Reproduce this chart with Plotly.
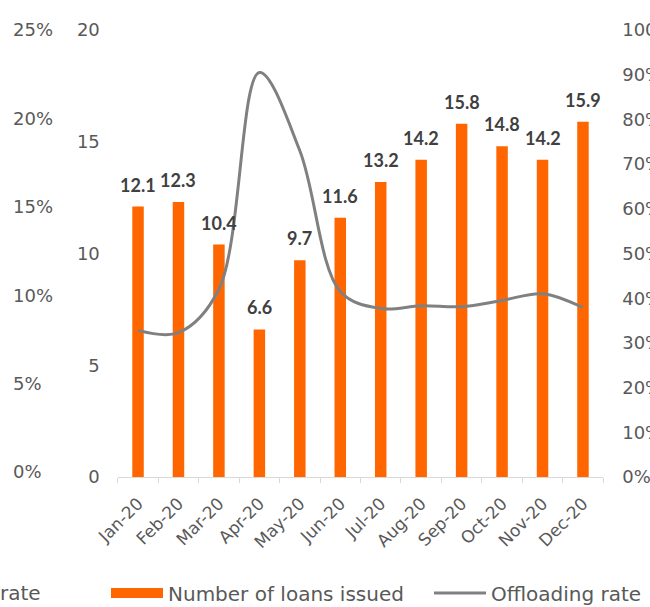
import plotly.graph_objects as go

months = ["Jan-20", "Feb-20", "Mar-20", "Apr-20", "May-20", "Jun-20",
          "Jul-20", "Aug-20", "Sep-20", "Oct-20", "Nov-20", "Dec-20"]
loans_issued = [12.1, 12.3, 10.4, 6.6, 9.7, 11.6, 13.2, 14.2, 15.8, 14.8, 14.2, 15.9]
offloading_rate = [0.328, 0.323, 0.42, 0.905, 0.73, 0.415, 0.377, 0.383, 0.381, 0.395, 0.41, 0.379]

left_ticks = [0, 5, 10, 15, 20]
pct_ticks_right = [i / 10 for i in range(11)]
pct_ticks_far_left = [0, 0.05, 0.10, 0.15, 0.20, 0.25]

ORANGE = "#FF6600"
GREY_LINE = "#808080"
TICK_COLOR = "#595959"
LABEL_COLOR = "#404040"
FONT = "DejaVu Sans"

fig = go.Figure()

fig.add_trace(go.Bar(
    x=months, y=loans_issued, name="Number of loans issued",
    marker=dict(color=ORANGE, line=dict(width=0)),
    width=0.284, showlegend=False, yaxis="y", hoverinfo="skip",
))
# legend proxy for the bar series (wide rectangle symbol like the reference)
fig.add_trace(go.Scatter(
    x=[None], y=[None], mode="lines", name="Number of loans issued",
    line=dict(color=ORANGE, width=10), yaxis="y", hoverinfo="skip",
))
fig.add_trace(go.Scatter(
    x=months, y=offloading_rate, name="Offloading rate", mode="lines",
    line=dict(color=GREY_LINE, width=3, shape="spline", smoothing=1.0),
    yaxis="y2", hoverinfo="skip",
))
# far-left percentage axis (from the neighbouring chart)
fig.add_trace(go.Scatter(
    x=[None], y=[None], mode="lines", showlegend=False, yaxis="y3", hoverinfo="skip",
))

for m, v in zip(months, loans_issued):
    fig.add_annotation(
        x=m, y=v, xref="x", yref="y", text=f"{v:.1f}", showarrow=False,
        yshift=22, yanchor="middle",
        font=dict(family="Lato", size=18, color=LABEL_COLOR, weight="bold"),
    )

fig.add_annotation(
    x=0, y=-0.2595, xref="paper", yref="paper", text="rate", showarrow=False,
    xanchor="left", yanchor="middle", xshift=-2,
    font=dict(family=FONT, size=20, color=TICK_COLOR),
)

fig.update_layout(
    width=650, height=607,
    margin=dict(l=0, r=0, t=30, b=130, autoexpand=False),
    paper_bgcolor="white", plot_bgcolor="white",
    font=dict(family=FONT, size=18, color=TICK_COLOR),
    bargap=0.7,
    hovermode=False,
    xaxis=dict(
        domain=[117.8 / 650, 603.2 / 650], automargin=False,
        type="category", categoryorder="array", categoryarray=months,
        showline=True, linecolor="#D9D9D9", linewidth=1,
        ticks="outside", ticklen=5, tickcolor="#D9D9D9", tickson="boundaries",
        tickangle=-45, showgrid=False, zeroline=False, ticklabelstandoff=9,
        tickfont=dict(family=FONT, size=17, color=TICK_COLOR),
    ),
    yaxis=dict(
        range=[0, 20], tickvals=left_ticks, showgrid=False, zeroline=False,
        showline=False, ticks="", ticklabelstandoff=17, automargin=False,
        tickfont=dict(family=FONT, size=18, color=TICK_COLOR),
    ),
    yaxis2=dict(
        range=[0, 1], tickvals=pct_ticks_right, tickformat=".0%",
        overlaying="y", side="right", anchor="x", automargin=False,
        showgrid=False, zeroline=False, showline=False, ticks="",
        ticklabelstandoff=18,
        tickfont=dict(family=FONT, size=18, color=TICK_COLOR),
    ),
    yaxis3=dict(
        range=[-0.0028, 0.25], tickvals=pct_ticks_far_left, tickformat=".0%",
        overlaying="y", side="right", anchor="free", position=12 / 650,
        automargin=False,
        showgrid=False, zeroline=False, showline=False, ticks="",
        tickfont=dict(family=FONT, size=18, color=TICK_COLOR),
    ),
    legend=dict(
        orientation="h", x=106 / 650, xanchor="left", xref="paper",
        y=-0.2595, yanchor="middle", yref="paper",
        itemwidth=52, entrywidth=256, entrywidthmode="pixels",
        font=dict(family=FONT, size=20, color=TICK_COLOR),
        bgcolor="rgba(0,0,0,0)", borderwidth=0, tracegroupgap=0,
        traceorder="normal",
    ),
)

fig.write_html(
    "out.html",
    config={"displayModeBar": False},
    post_script="document.body.style.margin='0px';",
)
